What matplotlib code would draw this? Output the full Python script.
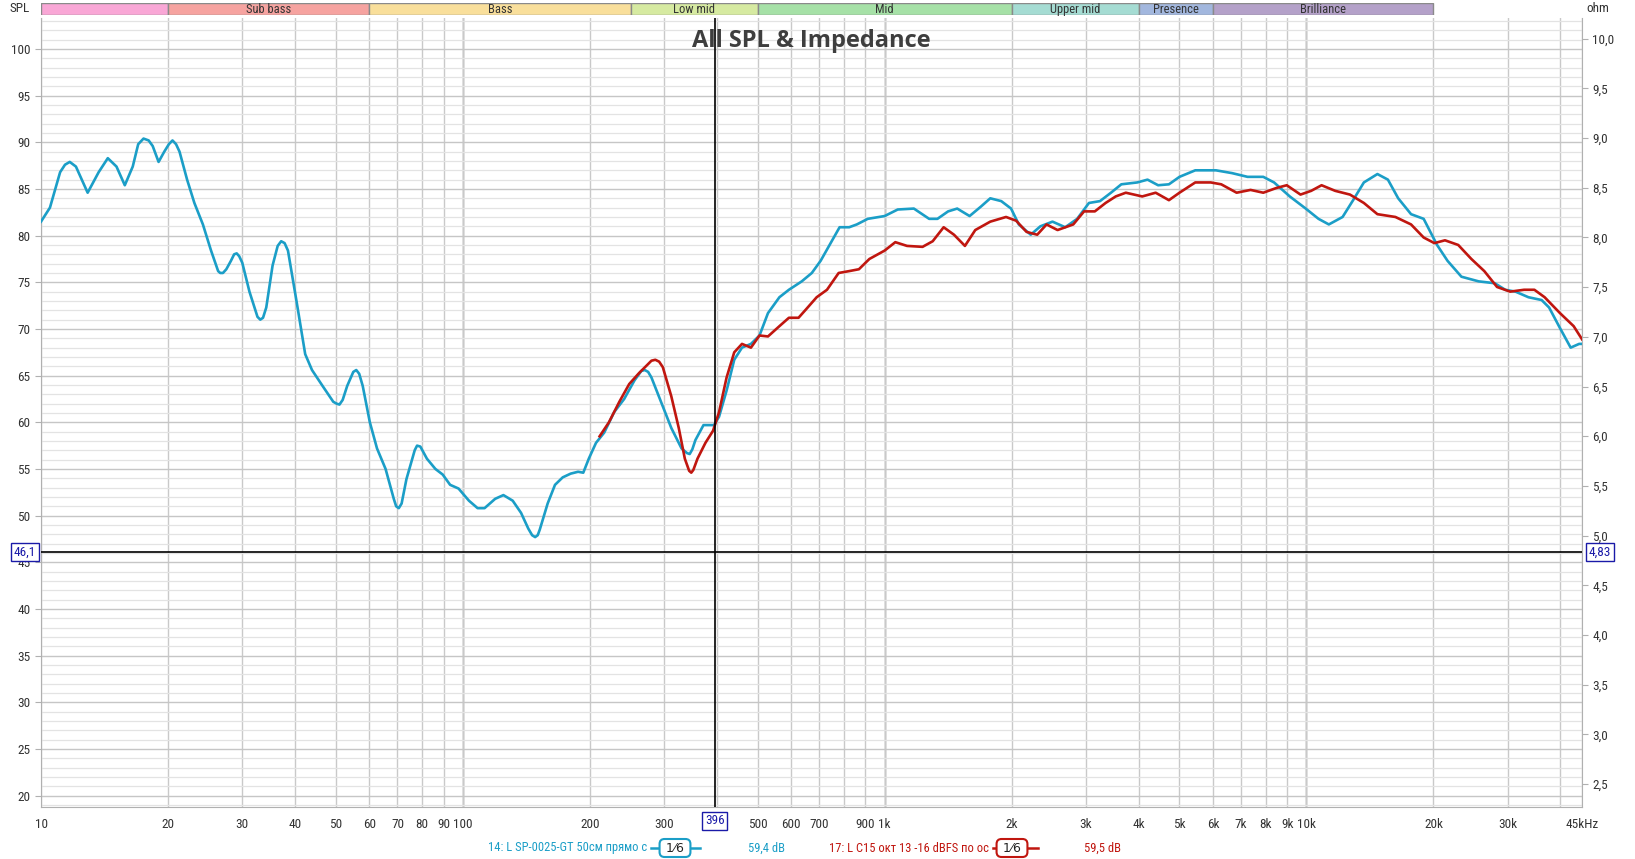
import numpy as np
import matplotlib
matplotlib.use("Agg")
import matplotlib.pyplot as plt
from matplotlib import font_manager
from matplotlib.ticker import FixedLocator, FixedFormatter, MultipleLocator
from matplotlib.lines import Line2D
from matplotlib.patches import Rectangle

# ---- data ----
teal_freq = [10, 10.5, 11.1, 11.4, 11.7, 12.1, 12.9, 13.7, 14.4, 15.1, 15.8, 16.5, 17.0, 17.5, 18.0,
             18.4, 19.0, 19.6, 20.1, 20.5, 20.9, 21.3, 22.2, 23.1, 24.2, 25.3, 26.3, 26.6, 27.0, 27.5,
             28.2, 28.7, 29.1, 29.5, 30.0, 31.2, 32.6, 33.1, 33.6, 34.2, 35.4, 36.4, 37.1, 37.8, 38.5,
             40.4, 42.3, 43.9, 46.5, 49.3, 50.2, 51.0, 51.9, 53.2, 55.0, 55.9, 56.8, 57.9, 60.2, 62.6,
             65.6, 68.6, 69.5, 70.5, 71.6, 73.5, 76.9, 77.9, 79.3, 82.2, 86.1, 89.6, 93.3, 97.7, 103.4,
             108.4, 112.6, 119.3, 124.8, 131.3, 137.4, 143.0, 146, 148.4, 150.5, 152.2, 158.9, 165.4,
             172.5, 180.2, 187.6, 193, 198.9, 206.9, 216.4, 228.5, 241.3, 255.3, 265, 270, 275, 280,
             295, 312, 330, 340, 345, 350, 356, 372, 394, 405, 422, 440, 459, 482, 505, 529, 563, 593,
             636, 672, 705, 747, 782, 824, 859, 912, 1000, 1074, 1173, 1275, 1334, 1414, 1486, 1590,
             1690, 1780, 1890, 1994, 2080, 2220, 2340, 2500, 2680, 2860, 3050, 3240, 3440, 3640, 3970,
             4200, 4450, 4720, 5000, 5450, 6100, 6660, 7250, 7900, 8380, 9130, 9960, 10680, 11300,
             12180, 12900, 13680, 14730, 15600, 16500, 17700, 18960, 20400, 21600, 23300, 25600,
             27950, 29600, 31300, 33600, 36100, 37600, 39900, 42300, 44300, 45000]
teal_db = [81.5, 83.0, 86.8, 87.6, 87.9, 87.4, 84.6, 86.8, 88.3, 87.4, 85.4, 87.4, 89.8, 90.4, 90.2,
           89.6, 87.9, 89.0, 89.8, 90.2, 89.8, 89.0, 86.0, 83.5, 81.2, 78.4, 76.2, 76.0, 76.0, 76.4,
           77.3, 78.0, 78.1, 77.8, 77.1, 74.0, 71.3, 71.0, 71.2, 72.3, 76.8, 78.9, 79.4, 79.2, 78.4,
           72.8, 67.3, 65.6, 63.9, 62.2, 62.0, 61.9, 62.4, 63.9, 65.4, 65.6, 65.2, 63.9, 60.0, 57.2,
           55.0, 51.8, 51.0, 50.8, 51.3, 53.9, 57.0, 57.5, 57.4, 56.1, 55.0, 54.4, 53.3, 52.9, 51.6,
           50.8, 50.8, 51.8, 52.2, 51.6, 50.3, 48.6, 47.9, 47.7, 47.9, 48.5, 51.3, 53.3,
           54.1, 54.5, 54.7, 54.6, 56.1, 57.8, 58.9, 61.1, 62.5, 64.5, 65.5, 65.6, 65.4, 64.8,
           62.2, 59.4, 57.2, 56.7, 56.6, 57.1, 58.1, 59.7, 59.7, 60.6, 63.4, 66.7, 68.0, 68.4, 69.3, 71.7, 73.4, 74.2,
           75.1, 76.0, 77.3, 79.3, 80.9, 80.9, 81.2, 81.8, 82.1, 82.8, 82.9, 81.8, 81.8, 82.6, 82.9, 82.1,
           83.1, 84.0, 83.7, 82.9, 81.2, 80.1, 81.0, 81.5, 80.9, 81.8, 83.5, 83.7, 84.6, 85.5, 85.7,
           86.0, 85.4, 85.5, 86.3, 87.0, 87.0, 86.7, 86.3, 86.3, 85.7, 84.2, 82.9, 81.8, 81.2,
           82.0, 83.8, 85.7, 86.6, 86.0, 84.0, 82.3, 81.8, 79.0, 77.3, 75.6, 75.1,
           74.9, 74.2, 74.0, 73.4, 73.1, 72.3, 70.1, 68.0, 68.4, 68.4]

red_freq = [211, 222, 235, 248, 262, 273, 280, 286, 292, 298, 312, 325, 336, 344, 348, 352, 360, 376,
            392, 405, 422, 440, 459, 482, 505, 529, 563, 593, 625, 651, 690, 730, 778, 824, 869, 920,
            1000, 1060, 1130, 1230, 1300, 1380, 1460, 1550, 1640, 1780, 1940, 2050, 2170, 2300, 2420,
            2570, 2800, 2970, 3150, 3340, 3530, 3730, 4080, 4390, 4720, 5000, 5450, 5930, 6280, 6830,
            7370, 7900, 8480, 8980, 9680, 10260, 10860, 11700, 12680, 13680, 14730, 16250, 17700,
            18960, 20100, 21300, 22900, 24600, 26400, 28300, 30400, 32800, 34700, 36700, 39900,
            43000, 45000]
red_db = [58.5, 60.0, 62.2, 64.1, 65.3, 66.1, 66.6, 66.7, 66.5, 65.9, 62.8, 59.4, 56.1, 54.8, 54.6, 54.9,
          56.1, 57.8, 59.1, 61.1, 64.8, 67.5, 68.4, 68.0, 69.3, 69.2, 70.3, 71.2, 71.2, 72.1, 73.4, 74.2,
          76.0, 76.2, 76.4, 77.5, 78.4, 79.3, 78.9, 78.8, 79.4, 80.9, 80.1, 78.9, 80.6, 81.5, 82.0,
          81.6, 80.4, 80.1, 81.2, 80.6, 81.2, 82.6, 82.6, 83.5, 84.2, 84.6, 84.2, 84.6, 83.8, 84.6,
          85.7, 85.7, 85.5, 84.6, 84.9, 84.6, 85.1, 85.4, 84.4, 84.8, 85.4, 84.8, 84.4, 83.5, 82.3,
          82.0, 81.2, 79.8, 79.2, 79.5, 79.0, 77.5, 76.2, 74.5, 74.0, 74.2, 74.2, 73.4, 71.7, 70.3, 68.9]

band_names = ["", "Sub bass", "Bass", "Low mid", "Mid", "Upper mid", "Presence", "Brilliance"]
band_edges = [10, 20, 60, 250, 500, 2000, 4000, 6000, 20000]
band_colors = ["#f9a7d6", "#f6a3a0", "#f9df9b", "#d6eaa1", "#a6e1a7", "#a5dcd3", "#a2b7de", "#b4a1c9"]

x_ticks = [10, 20, 30, 40, 50, 60, 70, 80, 90, 100, 200, 300, 400, 500, 600, 700, 800, 900,
           1000, 2000, 3000, 4000, 5000, 6000, 7000, 8000, 9000, 10000, 20000, 30000, 40000, 45000]
x_labels = ["10", "20", "30", "40", "50", "60", "70", "80", "90", "100", "200", "300", "", "500",
            "600", "700", "", "900", "1k", "2k", "3k", "4k", "5k", "6k", "7k", "8k", "9k", "10k",
            "20k", "30k", "", "45kHz"]
ohm_ticks = [2.5, 3.0, 3.5, 4.0, 4.5, 5.0, 5.5, 6.0, 6.5, 7.0, 7.5, 8.0, 8.5, 9.0, 9.5, 10.0]

cursor_freq = 396
cursor_db = 46.1
cursor_ohm = 4.83

teal = "#1b9ec7"
red = "#c0160f"
blue = "#1a1aa8"

# pick a narrow sans if one is installed
installed = {f.name for f in font_manager.fontManager.ttflist}
narrow_name = next((n for n in ["Liberation Sans Narrow", "Roboto Condensed", "Noto Sans Condensed",
                                "Open Sans Condensed", "Roboto"] if n in installed), "DejaVu Sans")
narrow = [narrow_name, "DejaVu Sans"]
fs = 9.5 if narrow_name != "Roboto" else 9

W, H = 1635, 859
fig = plt.figure(figsize=(W / 100, H / 100), dpi=100)


def fx(px):
    return px / W


def fy(py):
    return 1 - py / H


L, R, T, B = 41, 1582, 18, 807
ax = fig.add_axes([fx(L), fy(B), fx(R - L), fy(T) - fy(B)])
ax.set_xscale("log")
ax.set_xlim(10, 45000)
ax.set_ylim(18.78, 103.32)

ax.xaxis.set_major_locator(FixedLocator(x_ticks))
ax.xaxis.set_major_formatter(FixedFormatter(x_labels))
ax.xaxis.set_minor_locator(FixedLocator([]))
ax.yaxis.set_minor_locator(MultipleLocator(1))
ax.set_yticks(np.arange(20, 101, 5))

ax.grid(which="minor", axis="y", color="#e3e3e3", lw=0.9)
ax.grid(which="major", axis="y", color="#c6c6c6", lw=1.0)
ax.grid(which="major", axis="x", color="#c9c9c9", lw=1.0)
for d in [100, 1000, 10000]:
    ax.axvline(d, color="#7c7c7c", lw=1.0, zorder=1)

ax.tick_params(axis="both", which="major", labelsize=fs, colors="#333333", length=4, color="#b0b0b0")
ax.tick_params(axis="x", length=0, pad=8)
ax.tick_params(axis="y", which="minor", length=0)
for lab in ax.get_xticklabels() + ax.get_yticklabels():
    lab.set_family(narrow)
for s in ax.spines.values():
    s.set_color("#b0b0b0")
ax.spines["top"].set_visible(False)

ax.plot(teal_freq, teal_db, color=teal, lw=1.9, zorder=4, solid_joinstyle="round")
ax.plot(red_freq, red_db, color=red, lw=1.9, zorder=5, solid_joinstyle="round")

# cursors
ax.axvline(cursor_freq, color="black", lw=1.2, zorder=6)
ax.axhline(cursor_db, color="black", lw=1.2, zorder=6)

fig.text(fx(811), fy(41), "All SPL & Impedance", ha="center", va="center",
         fontsize=17, fontweight="bold", family="Open Sans", color="#3e3e3e", zorder=7)

# right ohm axis
ax2 = ax.twinx()
ax2.set_ylim(2.27, 10.207)
ax2.set_yticks(ohm_ticks)
ax2.set_yticklabels([f"{v:.1f}".replace(".", ",") for v in ohm_ticks])
ax2.tick_params(axis="y", labelsize=fs, colors="#333333", length=4, color="#b0b0b0")
for lab in ax2.get_yticklabels():
    lab.set_family(narrow)
for s in ax2.spines.values():
    s.set_visible(False)

fig.text(fx(20), fy(9), "SPL", ha="center", va="center", fontsize=fs, family=narrow, color="#333333")
fig.text(fx(1598), fy(9), "ohm", ha="center", va="center", fontsize=fs, family=narrow, color="#333333")

# cursor value boxes
box = dict(boxstyle="square,pad=0.2", fc="white", ec=blue, lw=1.0)
cy = ax.transData.transform((10, cursor_db))[1]
fig.text(fx(25), cy / H, "46,1", ha="center", va="center", fontsize=fs, family=narrow, color=blue, bbox=box)
fig.text(fx(1600), cy / H, "4,83", ha="center", va="center", fontsize=fs, family=narrow, color=blue, bbox=box)
cx = ax.transData.transform((cursor_freq, 50))[0]
fig.text(cx / W, fy(821), "396", ha="center", va="center", fontsize=fs, family=narrow, color=blue, bbox=box)

# frequency band bar
axb = fig.add_axes([fx(L), fy(15), fx(R - L), fy(3) - fy(15)])
axb.set_xscale("log")
axb.set_xlim(10, 45000)
axb.set_ylim(0, 1)
axb.axis("off")
for i, name in enumerate(band_names):
    a, b = band_edges[i], band_edges[i + 1]
    axb.add_patch(Rectangle((a, 0), b - a, 1, fc=band_colors[i], ec="#8a8a8a", lw=1.0))
    if name:
        axb.text(np.sqrt(a * b), 0.45, name, ha="center", va="center", fontsize=fs - 0.5,
                 family=narrow, color="#333333")

# legend row
ly = fy(848)
fig.text(fx(647), ly, "14: L SP-0025-GT 50см прямо с", ha="right", va="center", fontsize=fs - 0.5,
         family=narrow, color=teal)
fig.add_artist(Line2D([fx(651), fx(700)], [ly, ly], color=teal, lw=1.8))
fig.text(fx(675), ly, " 1\u20446 ", ha="center", va="center", fontsize=fs - 0.5, color="#222222",
         bbox=dict(boxstyle="round,pad=0.2,rounding_size=0.4", fc="white", ec=teal, lw=1.5))
fig.text(fx(748), ly, "59,4 dB", ha="left", va="center", fontsize=fs - 0.5, family=narrow, color=teal)

fig.text(fx(989), ly, "17: L C15 окт 13 -16 dBFS по ос", ha="right", va="center", fontsize=fs - 0.5,
         family=narrow, color=red)
fig.add_artist(Line2D([fx(993), fx(1038)], [ly, ly], color=red, lw=1.8))
fig.text(fx(1012), ly, " 1\u20446 ", ha="center", va="center", fontsize=fs - 0.5, color="#222222",
         bbox=dict(boxstyle="round,pad=0.2,rounding_size=0.4", fc="white", ec=red, lw=1.5))
fig.text(fx(1084), ly, "59,5 dB", ha="left", va="center", fontsize=fs - 0.5, family=narrow, color=red)

fig.savefig("out.png", dpi=100)
